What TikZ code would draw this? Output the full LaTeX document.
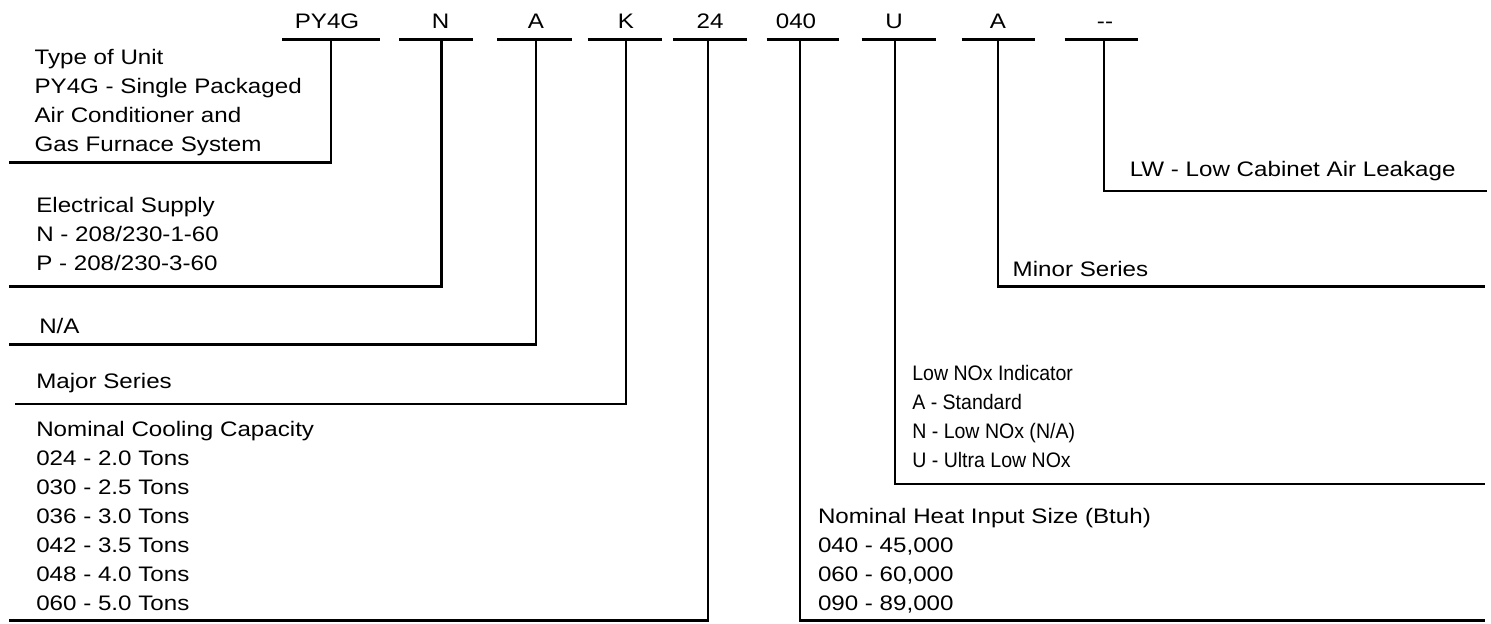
\documentclass[tikz,border=0pt]{standalone}
\usepackage{fontspec}
\setmainfont[FakeStretch=1.15]{Liberation Sans}
\newfontfamily\narrowfont[FakeStretch=0.93]{Liberation Sans}
\begin{document}
\begin{tikzpicture}[x=0.5pt,y=-0.5pt,line width=1.3pt,
  txt/.style={font=\fontsize{10.5}{14.5}\selectfont, inner sep=0pt, anchor=base west, align=left},
  ntxt/.style={font=\narrowfont\fontsize{10.5}{14.5}\selectfont, inner sep=0pt, anchor=base west, align=left},
  code/.style={font=\fontsize{10.5}{14.5}\selectfont, inner sep=0pt, anchor=base},
  seg/.style={line width=1.3pt},
  lead/.style={line width=1.3pt}]
\useasboundingbox (0,0) rectangle (1491,623);

% code letters
\node[code] (cPY) at (327,28.3) {PY4G};
\node[code] (cN) at (440.5,28.3) {N};
\node[code] (cA) at (536,28.3) {A};
\node[code] (cK) at (626,28.3) {K};
\node[code] (c24) at (710,28.3) {24};
\node[code] (c040) at (796,28.3) {040};
\node[code] (cU) at (894,28.3) {U};
\node[code] (cA2) at (998,28.3) {A};
\node[code] (cLW) at (1105,28.3) {{-}{-}};

% underline segments
\draw[seg] (282,39.5) -- (380,39.5);
\draw[seg] (399,39.5) -- (473,39.5);
\draw[seg] (497,39.5) -- (571.5,39.5);
\draw[seg] (587.7,39.5) -- (662,39.5);
\draw[seg] (673,39.5) -- (747,39.5);
\draw[seg] (766.5,39.5) -- (838.5,39.5);
\draw[seg] (861.5,39.5) -- (935.5,39.5);
\draw[seg] (961.7,39.5) -- (1035,39.5);
\draw[seg] (1064.5,39.5) -- (1137.6,39.5);

% leader start points
\coordinate (sPY) at (331,39.5);
\coordinate (sN) at (441.5,39.5);
\coordinate (sA) at (536,39.5);
\coordinate (sK) at (626,39.5);
\coordinate (s24) at (708,39.5);
\coordinate (s040) at (800,39.5);
\coordinate (sU) at (895,39.5);
\coordinate (sA2) at (998,39.5);
\coordinate (sLW) at (1104,39.5);

% leader end points
\coordinate (ePY) at (9.3,162.7);
\coordinate (eN) at (9.3,286.7);
\coordinate (eA) at (9.3,344.3);
\coordinate (eK) at (15,404);
\coordinate (e24) at (9.3,620.5);
\coordinate (e040) at (1485,620.5);
\coordinate (eU) at (1485,484);
\coordinate (eA2) at (1485,286.7);
\coordinate (eLW) at (1487,191);

\draw[lead] (sPY) |- (ePY);
\draw[lead] (sN) |- (eN);
\draw[lead] (sA) |- (eA);
\draw[lead] (sK) |- (eK);
\draw[lead] (s24) |- (e24);
\draw[lead] (s040) |- (e040);
\draw[lead] (sU) |- (eU);
\draw[lead] (sA2) |- (eA2);
\draw[lead] (sLW) |- (eLW);

% descriptions (anchored at the baseline of their last line)
\node[txt] (tUnit) at (33.3,151.7) {Type of Unit\\PY4G - Single Packaged\\Air Conditioner and\\Gas Furnace System};
\node[txt] (tElec) at (35,270.7) {Electrical Supply\\N - 208/230-1-60\\P - 208/230-3-60};
\node[txt] (tNA) at (38,333.3) {N/A};
\node[txt] (tMajor) at (35,388.3) {Major Series};
\node[txt] (tCool) at (35,610) {Nominal Cooling Capacity\\024 - 2.0 Tons\\030 - 2.5 Tons\\036 - 3.0 Tons\\042 - 3.5 Tons\\048 - 4.0 Tons\\060 - 5.0 Tons};
\node[txt] (tHeat) at (816.7,610) {Nominal Heat Input Size (Btuh)\\040 - 45,000\\060 - 60,000\\090 - 89,000};
\node[ntxt] (tNOx) at (911,467) {Low NOx Indicator\\A - Standard\\N - Low NOx (N/A)\\U - Ultra Low NOx};
\node[txt] (tMinor) at (1011.4,276.7) {Minor Series};
\node[txt] (tLW) at (1128.5,176.7) {LW - Low Cabinet Air Leakage};
\end{tikzpicture}
\end{document}
